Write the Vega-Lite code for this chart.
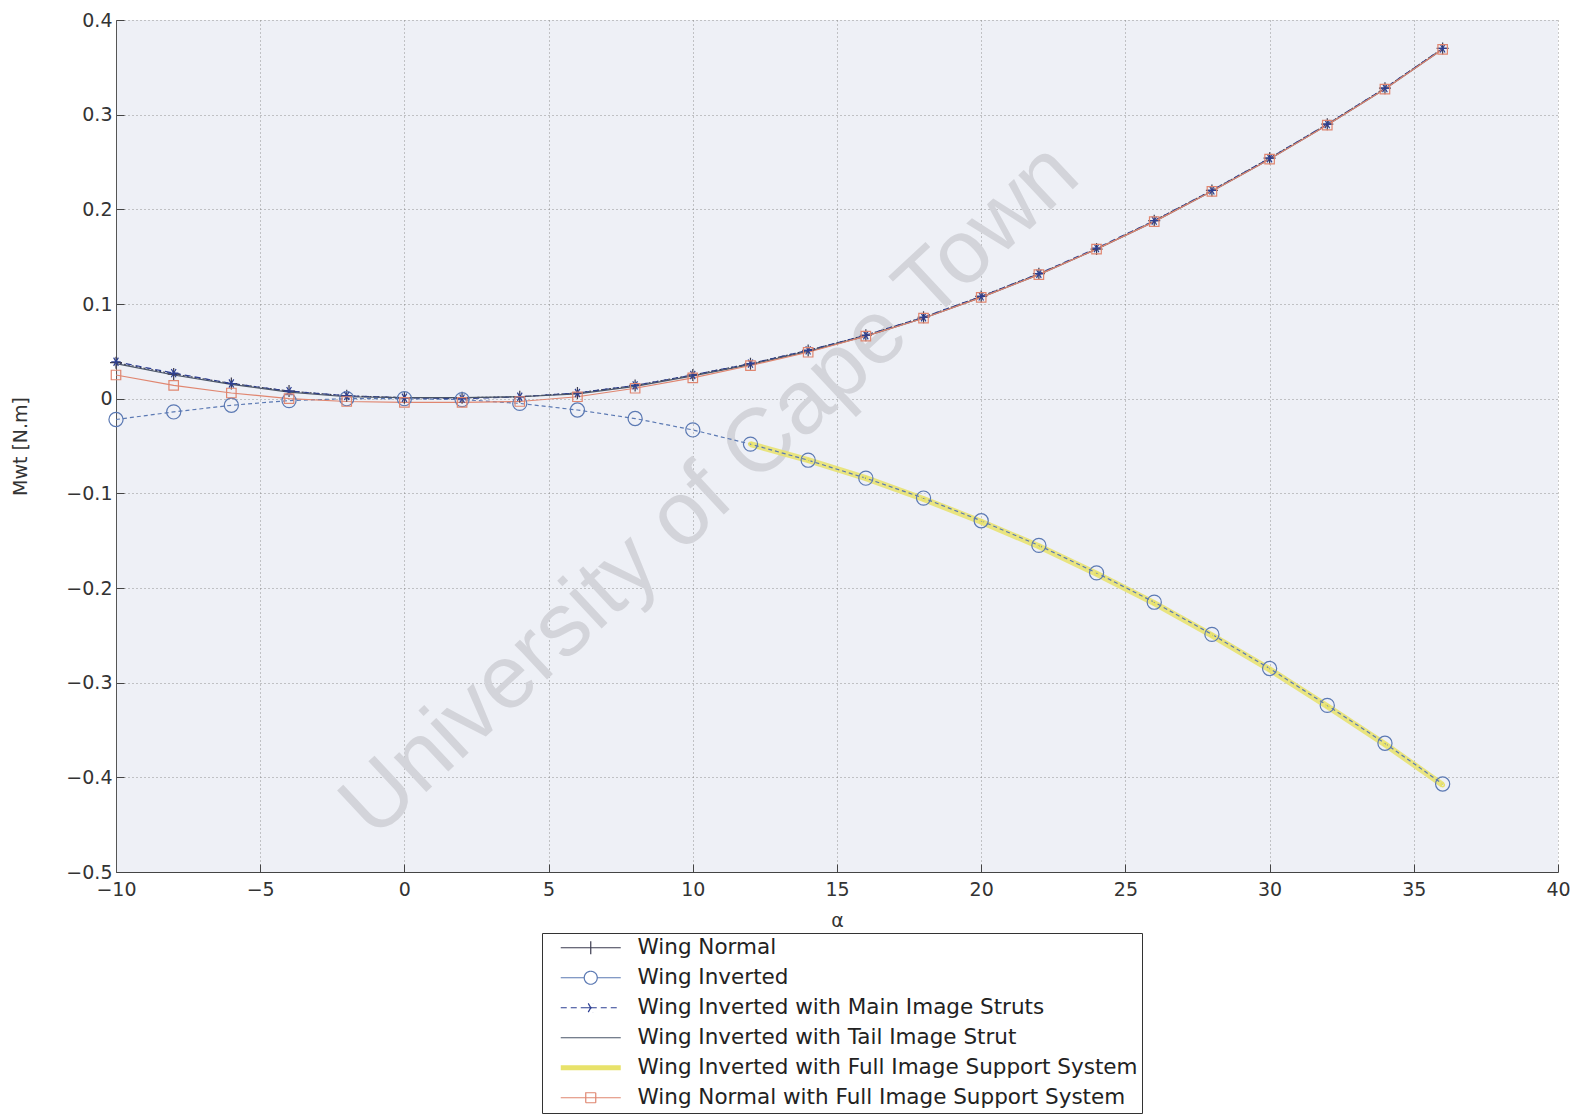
{
"$schema":"https://vega.github.io/schema/vega-lite/v6.json",
"autosize":{"type":"none"},
"width":1442,"height":852,
"padding":{"left":116,"top":20,"right":28,"bottom":244},
"background":"#ffffff",
"config":{"view":{"fill":"#eef0f6","stroke":null},"font":"DejaVu Sans"},
"datasets":{
"wm":[{"a":10.6,"m":-0.097,"t":"University of Cape Town"}],
"curves":[
{"series":"Wing Normal","alpha":-10,"M":0.038},{"series":"Wing Normal","alpha":-8,"M":0.026},{"series":"Wing Normal","alpha":-6,"M":0.016},{"series":"Wing Normal","alpha":-4,"M":0.008},{"series":"Wing Normal","alpha":-2,"M":0.003},{"series":"Wing Normal","alpha":0,"M":0.001},{"series":"Wing Normal","alpha":2,"M":0.001},{"series":"Wing Normal","alpha":4,"M":0.002},{"series":"Wing Normal","alpha":6,"M":0.006},{"series":"Wing Normal","alpha":8,"M":0.014},{"series":"Wing Normal","alpha":10,"M":0.025},{"series":"Wing Normal","alpha":12,"M":0.037},{"series":"Wing Normal","alpha":14,"M":0.051},{"series":"Wing Normal","alpha":16,"M":0.067},{"series":"Wing Normal","alpha":18,"M":0.086},{"series":"Wing Normal","alpha":20,"M":0.108},{"series":"Wing Normal","alpha":22,"M":0.132},{"series":"Wing Normal","alpha":24,"M":0.158},{"series":"Wing Normal","alpha":26,"M":0.188},{"series":"Wing Normal","alpha":28,"M":0.220},{"series":"Wing Normal","alpha":30,"M":0.254},{"series":"Wing Normal","alpha":32,"M":0.290},{"series":"Wing Normal","alpha":34,"M":0.328},{"series":"Wing Normal","alpha":36,"M":0.370},
{"series":"Wing Inverted","alpha":-10,"M":-0.022},{"series":"Wing Inverted","alpha":-8,"M":-0.014},{"series":"Wing Inverted","alpha":-6,"M":-0.007},{"series":"Wing Inverted","alpha":-4,"M":-0.002},{"series":"Wing Inverted","alpha":-2,"M":0.000},{"series":"Wing Inverted","alpha":0,"M":0.000},{"series":"Wing Inverted","alpha":2,"M":-0.001},{"series":"Wing Inverted","alpha":4,"M":-0.005},{"series":"Wing Inverted","alpha":6,"M":-0.012},{"series":"Wing Inverted","alpha":8,"M":-0.021},{"series":"Wing Inverted","alpha":10,"M":-0.033},{"series":"Wing Inverted","alpha":12,"M":-0.048},{"series":"Wing Inverted","alpha":14,"M":-0.065},{"series":"Wing Inverted","alpha":16,"M":-0.084},{"series":"Wing Inverted","alpha":18,"M":-0.105},{"series":"Wing Inverted","alpha":20,"M":-0.129},{"series":"Wing Inverted","alpha":22,"M":-0.155},{"series":"Wing Inverted","alpha":24,"M":-0.184},{"series":"Wing Inverted","alpha":26,"M":-0.215},{"series":"Wing Inverted","alpha":28,"M":-0.249},{"series":"Wing Inverted","alpha":30,"M":-0.285},{"series":"Wing Inverted","alpha":32,"M":-0.324},{"series":"Wing Inverted","alpha":34,"M":-0.364},{"series":"Wing Inverted","alpha":36,"M":-0.407},
{"series":"Wing Inverted with Main Image Struts","alpha":-10,"M":0.039},{"series":"Wing Inverted with Main Image Struts","alpha":-8,"M":0.027},{"series":"Wing Inverted with Main Image Struts","alpha":-6,"M":0.016},{"series":"Wing Inverted with Main Image Struts","alpha":-4,"M":0.008},{"series":"Wing Inverted with Main Image Struts","alpha":-2,"M":0.003},{"series":"Wing Inverted with Main Image Struts","alpha":0,"M":0.001},{"series":"Wing Inverted with Main Image Struts","alpha":2,"M":0.000},{"series":"Wing Inverted with Main Image Struts","alpha":4,"M":0.002},{"series":"Wing Inverted with Main Image Struts","alpha":6,"M":0.006},{"series":"Wing Inverted with Main Image Struts","alpha":8,"M":0.014},{"series":"Wing Inverted with Main Image Struts","alpha":10,"M":0.025},{"series":"Wing Inverted with Main Image Struts","alpha":12,"M":0.037},{"series":"Wing Inverted with Main Image Struts","alpha":14,"M":0.051},{"series":"Wing Inverted with Main Image Struts","alpha":16,"M":0.067},{"series":"Wing Inverted with Main Image Struts","alpha":18,"M":0.086},{"series":"Wing Inverted with Main Image Struts","alpha":20,"M":0.108},{"series":"Wing Inverted with Main Image Struts","alpha":22,"M":0.132},{"series":"Wing Inverted with Main Image Struts","alpha":24,"M":0.159},{"series":"Wing Inverted with Main Image Struts","alpha":26,"M":0.188},{"series":"Wing Inverted with Main Image Struts","alpha":28,"M":0.220},{"series":"Wing Inverted with Main Image Struts","alpha":30,"M":0.254},{"series":"Wing Inverted with Main Image Struts","alpha":32,"M":0.290},{"series":"Wing Inverted with Main Image Struts","alpha":34,"M":0.328},{"series":"Wing Inverted with Main Image Struts","alpha":36,"M":0.370},
{"series":"Wing Inverted with Tail Image Strut","alpha":-10,"M":0.037},{"series":"Wing Inverted with Tail Image Strut","alpha":-8,"M":0.025},{"series":"Wing Inverted with Tail Image Strut","alpha":-6,"M":0.015},{"series":"Wing Inverted with Tail Image Strut","alpha":-4,"M":0.007},{"series":"Wing Inverted with Tail Image Strut","alpha":-2,"M":0.002},{"series":"Wing Inverted with Tail Image Strut","alpha":0,"M":0.001},{"series":"Wing Inverted with Tail Image Strut","alpha":2,"M":0.001},{"series":"Wing Inverted with Tail Image Strut","alpha":4,"M":0.002},{"series":"Wing Inverted with Tail Image Strut","alpha":6,"M":0.005},{"series":"Wing Inverted with Tail Image Strut","alpha":8,"M":0.013},{"series":"Wing Inverted with Tail Image Strut","alpha":10,"M":0.024},{"series":"Wing Inverted with Tail Image Strut","alpha":12,"M":0.036},{"series":"Wing Inverted with Tail Image Strut","alpha":14,"M":0.050},{"series":"Wing Inverted with Tail Image Strut","alpha":16,"M":0.066},{"series":"Wing Inverted with Tail Image Strut","alpha":18,"M":0.085},{"series":"Wing Inverted with Tail Image Strut","alpha":20,"M":0.107},{"series":"Wing Inverted with Tail Image Strut","alpha":22,"M":0.131},{"series":"Wing Inverted with Tail Image Strut","alpha":24,"M":0.158},{"series":"Wing Inverted with Tail Image Strut","alpha":26,"M":0.187},{"series":"Wing Inverted with Tail Image Strut","alpha":28,"M":0.219},{"series":"Wing Inverted with Tail Image Strut","alpha":30,"M":0.253},{"series":"Wing Inverted with Tail Image Strut","alpha":32,"M":0.289},{"series":"Wing Inverted with Tail Image Strut","alpha":34,"M":0.327},{"series":"Wing Inverted with Tail Image Strut","alpha":36,"M":0.369},
{"series":"Wing Inverted with Full Image Support System","alpha":12,"M":-0.048},{"series":"Wing Inverted with Full Image Support System","alpha":14,"M":-0.065},{"series":"Wing Inverted with Full Image Support System","alpha":16,"M":-0.084},{"series":"Wing Inverted with Full Image Support System","alpha":18,"M":-0.106},{"series":"Wing Inverted with Full Image Support System","alpha":20,"M":-0.130},{"series":"Wing Inverted with Full Image Support System","alpha":22,"M":-0.156},{"series":"Wing Inverted with Full Image Support System","alpha":24,"M":-0.185},{"series":"Wing Inverted with Full Image Support System","alpha":26,"M":-0.216},{"series":"Wing Inverted with Full Image Support System","alpha":28,"M":-0.250},{"series":"Wing Inverted with Full Image Support System","alpha":30,"M":-0.286},{"series":"Wing Inverted with Full Image Support System","alpha":32,"M":-0.325},{"series":"Wing Inverted with Full Image Support System","alpha":34,"M":-0.365},{"series":"Wing Inverted with Full Image Support System","alpha":36,"M":-0.408},
{"series":"Wing Normal with Full Image Support System","alpha":-10,"M":0.025},{"series":"Wing Normal with Full Image Support System","alpha":-8,"M":0.014},{"series":"Wing Normal with Full Image Support System","alpha":-6,"M":0.006},{"series":"Wing Normal with Full Image Support System","alpha":-4,"M":0.000},{"series":"Wing Normal with Full Image Support System","alpha":-2,"M":-0.003},{"series":"Wing Normal with Full Image Support System","alpha":0,"M":-0.004},{"series":"Wing Normal with Full Image Support System","alpha":2,"M":-0.004},{"series":"Wing Normal with Full Image Support System","alpha":4,"M":-0.003},{"series":"Wing Normal with Full Image Support System","alpha":6,"M":0.002},{"series":"Wing Normal with Full Image Support System","alpha":8,"M":0.011},{"series":"Wing Normal with Full Image Support System","alpha":10,"M":0.022},{"series":"Wing Normal with Full Image Support System","alpha":12,"M":0.035},{"series":"Wing Normal with Full Image Support System","alpha":14,"M":0.049},{"series":"Wing Normal with Full Image Support System","alpha":16,"M":0.066},{"series":"Wing Normal with Full Image Support System","alpha":18,"M":0.085},{"series":"Wing Normal with Full Image Support System","alpha":20,"M":0.107},{"series":"Wing Normal with Full Image Support System","alpha":22,"M":0.131},{"series":"Wing Normal with Full Image Support System","alpha":24,"M":0.158},{"series":"Wing Normal with Full Image Support System","alpha":26,"M":0.187},{"series":"Wing Normal with Full Image Support System","alpha":28,"M":0.219},{"series":"Wing Normal with Full Image Support System","alpha":30,"M":0.253},{"series":"Wing Normal with Full Image Support System","alpha":32,"M":0.289},{"series":"Wing Normal with Full Image Support System","alpha":34,"M":0.327},{"series":"Wing Normal with Full Image Support System","alpha":36,"M":0.369}
]},
"data":{"name":"curves"},
"encoding":{
"x":{"field":"alpha","type":"quantitative","scale":{"domain":[-10,40],"nice":false,"zero":false},
"axis":{"title":"α","values":[-10,-5,0,5,10,15,20,25,30,35,40],"format":"d","grid":true,"gridDash":[1,3],"gridColor":"#7a7a7a","gridOpacity":0.8,"tickSize":-8,"tickColor":"#444444","domainColor":"#444444","labelFont":"DejaVu Sans","labelFontSize":19,"labelColor":"#333333","labelPadding":16,"labelFlush":false,"labelOverlap":false,"titleFont":"DejaVu Sans","titleFontSize":19,"titleFontWeight":"normal","titleColor":"#333333","titleY":48,"titleBaseline":"middle"}},
"y":{"field":"M","type":"quantitative","scale":{"domain":[-0.5,0.4],"nice":false,"zero":false},
"axis":{"title":"Mwt [N.m]","values":[-0.5,-0.4,-0.3,-0.2,-0.1,0,0.1,0.2,0.3,0.4],"format":"~g","grid":true,"gridDash":[1,3],"gridColor":"#7a7a7a","gridOpacity":0.8,"tickSize":-8,"tickColor":"#444444","domainColor":"#555555","labelFont":"DejaVu Sans","labelFontSize":19,"labelColor":"#333333","labelPadding":12,"labelFlush":false,"labelOverlap":false,"titleFont":"DejaVu Sans","titleFontSize":19,"titleFontWeight":"normal","titleColor":"#333333","titleX":-96,"titleY":426,"titleBaseline":"middle","titleAngle":-90}},
"color":{"field":"series","type":"nominal",
"scale":{"domain":["Wing Normal","Wing Inverted","Wing Inverted with Main Image Struts","Wing Inverted with Tail Image Strut","Wing Inverted with Full Image Support System","Wing Normal with Full Image Support System"],"range":["#3b3b4f","#5b79b3","#2d3f92","#4a5568","#e8e26a","#e08670"]},
"legend":{"title":null,"orient":"none","legendX":426,"legendY":913,"direction":"vertical","fillColor":"#ffffff","strokeColor":"#333333","padding":4,"rowPadding":7,"labelFont":"DejaVu Sans","labelFontSize":21.5,"labelColor":"#222222","labelLimit":0,"symbolSize":100,"symbolOffset":34,"labelOffset":36,"symbolStrokeWidth":1.2,"symbolType":"stroke",
"encode":{"symbols":{"update":{
"shape":{"signal":"datum.value === 'Wing Normal' ? 'M-6,0H6M0,-1.3V1.3M-1.3,0H1.3' : datum.value === 'Wing Inverted' ? 'M-6,0H-1.3M1.3,0H6M-1.3,0A1.3,1.3,0,1,1,1.3,0A1.3,1.3,0,1,1,-1.3,0' : datum.value === 'Wing Inverted with Main Image Struts' ? 'M-6,0H6M-1,0H1M-0.5,-0.87L0.5,0.87M-0.5,0.87L0.5,-0.87' : datum.value === 'Wing Normal with Full Image Support System' ? 'M-6,0H6M-1,-1H1V1H-1Z' : 'M-6,0H6'"},
"strokeDash":{"signal":"datum.value === 'Wing Inverted with Main Image Struts' ? [6,4] : [1,0]"},
"strokeWidth":{"signal":"datum.value === 'Wing Inverted with Full Image Support System' ? 5 : 1.2"},
"fill":{"value":"transparent"}}}}}}
},
"layer":[
{"data":{"name":"wm"},"mark":{"type":"text","angle":317,"fontSize":90,"font":"Liberation Sans","align":"center","baseline":"middle"},
"encoding":{"x":{"field":"a","type":"quantitative"},"y":{"field":"m","type":"quantitative"},"text":{"field":"t"},"color":{"value":"#d3d4da"}}},
{"transform":[{"filter":"datum.series === 'Wing Inverted with Full Image Support System'"}],
"mark":{"type":"line","strokeWidth":6,"opacity":0.85}},
{"transform":[{"filter":"datum.series === 'Wing Normal'"}],"mark":{"type":"line","strokeWidth":1.2,"strokeDash":[2,2]}},
{"transform":[{"filter":"datum.series === 'Wing Inverted'"}],"mark":{"type":"line","strokeWidth":1.2,"strokeDash":[4,3]}},
{"transform":[{"filter":"datum.series === 'Wing Inverted with Main Image Struts'"}],"mark":{"type":"line","strokeWidth":1.2,"strokeDash":[6,4]}},
{"transform":[{"filter":{"field":"series","oneOf":["Wing Inverted with Tail Image Strut","Wing Normal with Full Image Support System"]}}],"mark":{"type":"line","strokeWidth":1.2}},
{"transform":[{"filter":"datum.series === 'Wing Normal'"}],"mark":{"type":"point","filled":false,"strokeWidth":1.2,"opacity":1,"shape":"M-1,0H1M0,-1V1","size":144}},
{"transform":[{"filter":"datum.series === 'Wing Inverted'"}],"mark":{"type":"point","filled":false,"strokeWidth":1.2,"opacity":1,"shape":"circle","size":200}},
{"transform":[{"filter":"datum.series === 'Wing Inverted with Main Image Struts'"}],"mark":{"type":"point","filled":false,"strokeWidth":1.2,"opacity":1,"shape":"M-1,0H1M-0.5,-0.87L0.5,0.87M-0.5,0.87L0.5,-0.87","size":90}},
{"transform":[{"filter":"datum.series === 'Wing Inverted with Full Image Support System'"}],"mark":{"type":"point","filled":false,"strokeWidth":1.5,"opacity":1,"shape":"circle","size":12}},
{"transform":[{"filter":"datum.series === 'Wing Normal with Full Image Support System'"}],"mark":{"type":"point","filled":false,"strokeWidth":1.2,"opacity":1,"shape":"square","size":90}}
]
}
